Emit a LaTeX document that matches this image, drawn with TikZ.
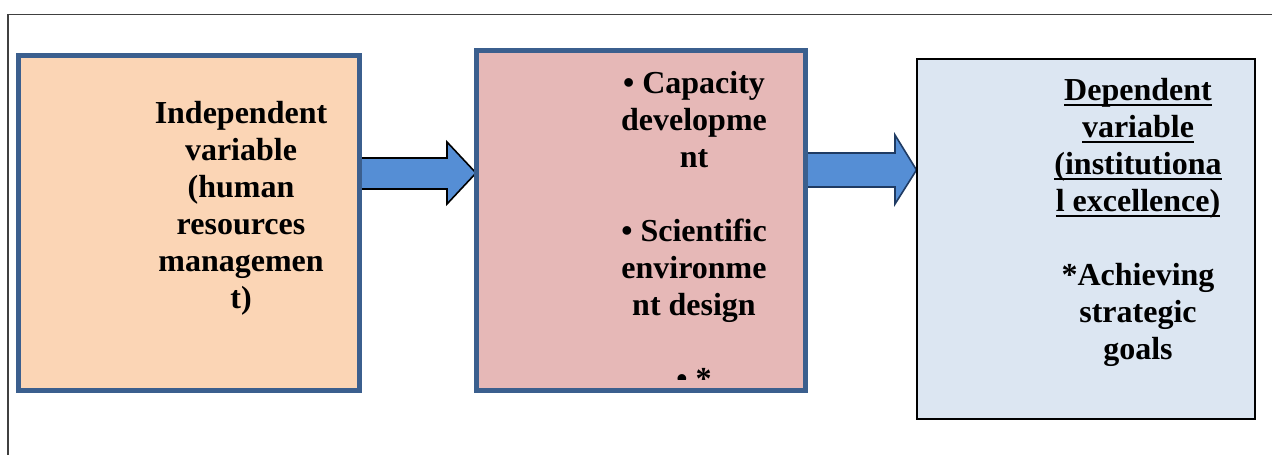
\documentclass[tikz,border=0pt]{standalone}
\usepackage{fontspec}
\setmainfont{Liberation Serif}
\usetikzlibrary{calc,backgrounds}
\definecolor{peach}{RGB}{251,213,181}
\definecolor{rosy}{RGB}{230,184,183}
\definecolor{paleblue}{RGB}{220,230,242}
\definecolor{boxedge}{RGB}{59,95,142}
\definecolor{arrowblue}{RGB}{85,142,213}
\definecolor{arrowedge}{RGB}{31,59,99}
\definecolor{framegray}{RGB}{64,64,64}
\newcommand{\ulword}[1]{\setbox0\hbox{#1}\rlap{\rule[-6pt]{\wd0}{2pt}}\box0}

\begin{document}
\begin{tikzpicture}[x=1pt,y=-1pt]
%
% Styles
%
\tikzset{every node/.style={inner sep=0pt, outer sep=0pt}};%
\tikzset{var box/.style={draw=boxedge, line width=5pt}};%
\tikzset{var text/.style={font=\fontsize{32}{37}\selectfont\bfseries, align=center, anchor=base}};%
\tikzset{block arrow/.style={draw=#1, fill=arrowblue, line width=1.6pt, line join=miter}};%
\tikzset{outer frame/.style={draw=framegray, line width=1.5pt}};%

\useasboundingbox (0,0) rectangle (1272,455);%

%
% Frame
%
\draw[outer frame] (8,455) -- (8,14.5) -- (1272,14.5);%

%
% Boxes
%
\node[var box, fill=peach, minimum width=341pt, minimum height=334.5pt] (indep) at (189,222.75) {};%
\node[var box, fill=rosy, minimum width=329.5pt, minimum height=340pt] (mediat) at (640.75,220) {};%
\node[draw=black, line width=2pt, fill=paleblue, minimum width=338pt, minimum height=359.5pt] (result) at (1085.5,238.75) {};%

%
% Texts (anchored on the baseline of their last line)
%
\node[var text] (indeptext) at (241,308) {Independent\\variable\\(human\\resources\\managemen\\t)};%
\begin{scope}
    \clip (476,50) rectangle (805.5,379);%
    \node[var text] (mediattext) at (694,389) {• Capacity\\developme\\nt\\[37pt]• Scientific\\environme\\nt design\\[37pt]• *};%
\end{scope}
\node[var text] (resulttext) at (1138,359) {\ulword{Dependent}\\\ulword{variable}\\\ulword{(institutiona}\\\ulword{l excellence)}\\[37pt]*Achieving\\strategic\\goals};%

%
% Arrows
%
\begin{scope}[on background layer]
    \draw[block arrow=black] (indep.east |- 0,158) -- (447,158) -- (447,142) -- (mediat.west |- 0,173) -- (447,204) -- (447,189) -- (indep.east |- 0,189) -- cycle;%
    \draw[block arrow=arrowedge] (mediat.east |- 0,153) -- (895,153) -- (895,135) -- (result.west |- 0,170) -- (895,204) -- (895,187) -- (mediat.east |- 0,187) -- cycle;%
\end{scope}
\end{tikzpicture}
\end{document}
